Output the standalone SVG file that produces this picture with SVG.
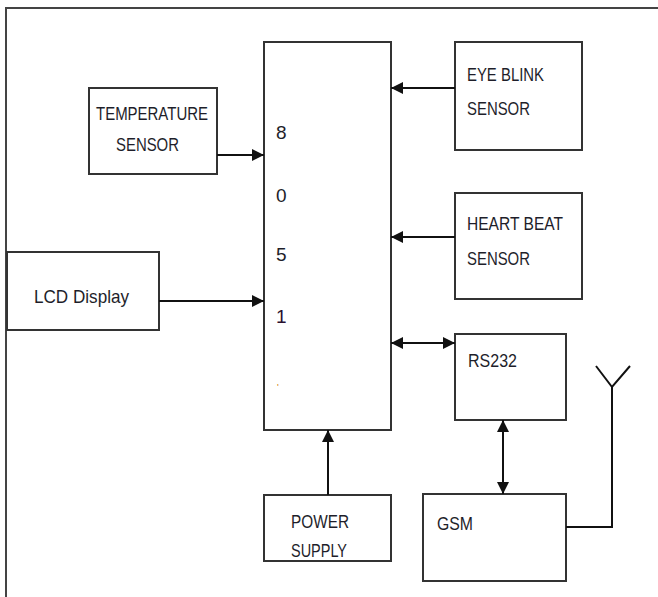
<svg xmlns="http://www.w3.org/2000/svg" width="658" height="597" viewBox="0 0 658 597">
<style>
.box{fill:#fff;stroke:#333;stroke-width:2}
.ln{fill:none;stroke:#111;stroke-width:2}
.t{font-family:"Liberation Sans",Arial,sans-serif;font-size:19px;fill:#1e1e2a}
</style>
<defs>
<marker id="ah" viewBox="0 0 10 10" refX="10" refY="5" markerWidth="6" markerHeight="6" orient="auto-start-reverse" markerUnits="strokeWidth">
<path d="M0,0 L10,5 L0,10 Z" fill="#111"/>
</marker>
</defs>
<rect width="658" height="597" fill="#fff"/>
<path d="M6,600 L6,8 L662,8" fill="none" stroke="#444" stroke-width="2"/>
<g id="mcu"><rect class="box" x="264" y="42" width="127" height="388"/>
<text class="t" x="276" y="139">8</text>
<text class="t" x="276" y="202">0</text>
<text class="t" x="276" y="261">5</text>
<text class="t" x="276" y="323" style="fill:#2a1030">1</text>
<text x="277" y="390" style="font-family:'Liberation Sans',sans-serif;font-size:9px;fill:#c70">'</text></g>
<g id="temp"><rect class="box" x="89" y="88" width="128" height="86"/>
<text class="t" x="96" y="120" textLength="112" lengthAdjust="spacingAndGlyphs">TEMPERATURE</text>
<text class="t" x="116" y="151" textLength="63" lengthAdjust="spacingAndGlyphs">SENSOR</text></g>
<g id="lcd"><rect class="box" x="7" y="252" width="152" height="78"/>
<text class="t" x="34" y="303" textLength="95" lengthAdjust="spacingAndGlyphs">LCD Display</text></g>
<g id="eye"><rect class="box" x="455" y="42" width="127" height="108"/>
<text class="t" x="467" y="81" textLength="77" lengthAdjust="spacingAndGlyphs">EYE BLINK</text>
<text class="t" x="467" y="115" textLength="63" lengthAdjust="spacingAndGlyphs">SENSOR</text></g>
<g id="heart"><rect class="box" x="455" y="193" width="127" height="106"/>
<text class="t" x="467" y="230" textLength="96" lengthAdjust="spacingAndGlyphs">HEART BEAT</text>
<text class="t" x="467" y="265" textLength="63" lengthAdjust="spacingAndGlyphs">SENSOR</text></g>
<g id="rs232"><rect class="box" x="455" y="334" width="111" height="86"/>
<text class="t" x="468" y="367" textLength="49" lengthAdjust="spacingAndGlyphs">RS232</text></g>
<g id="gsm"><rect class="box" x="423" y="494" width="143" height="87"/>
<text class="t" x="437" y="530" textLength="36" lengthAdjust="spacingAndGlyphs">GSM</text></g>
<g id="power"><rect class="box" x="264" y="495" width="127" height="66"/>
<text class="t" x="291" y="528" textLength="58" lengthAdjust="spacingAndGlyphs">POWER</text>
<text class="t" x="291" y="557" textLength="56" lengthAdjust="spacingAndGlyphs">SUPPLY</text></g>
<g id="antenna"><path class="ln" d="M596,366 L612,387 L630,366 M612,387 L612,527 L566,527"/></g>
<g id="connectors">
<line class="ln" x1="217" y1="155" x2="264" y2="155" marker-end="url(#ah)"/>
<line class="ln" x1="159" y1="301" x2="264" y2="301" marker-end="url(#ah)"/>
<line class="ln" x1="455" y1="88" x2="391" y2="88" marker-end="url(#ah)"/>
<line class="ln" x1="455" y1="237" x2="391" y2="237" marker-end="url(#ah)"/>
<line class="ln" x1="391" y1="343" x2="455" y2="343" marker-start="url(#ah)" marker-end="url(#ah)"/>
<line class="ln" x1="503" y1="420" x2="503" y2="494" marker-start="url(#ah)" marker-end="url(#ah)"/>
<line class="ln" x1="328" y1="495" x2="328" y2="430" marker-end="url(#ah)"/>
</g>
</svg>
